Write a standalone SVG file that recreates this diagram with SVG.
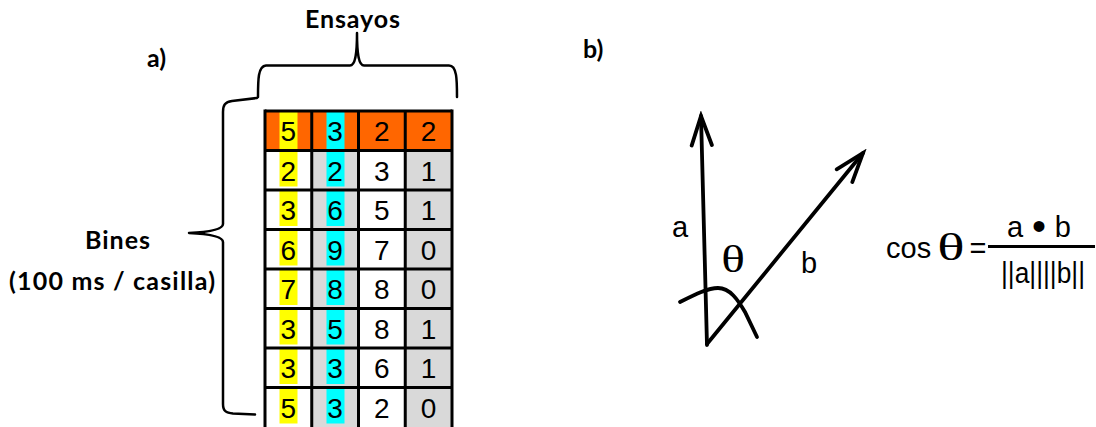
<svg xmlns="http://www.w3.org/2000/svg" width="1096" height="427" viewBox="0 0 1096 427">
  <style>
    .lbl { font-family: Lato, "Open Sans", "Liberation Sans", sans-serif; font-weight: bold; font-size: 25px; fill: #000; }
    .num { font-family: "Liberation Sans", Arial, sans-serif; font-size: 28px; fill: #000; text-anchor: middle; }
    .grid { stroke: #000; stroke-width: 3; fill: none; }
    .brace { stroke: #000; stroke-width: 2.5; fill: none; stroke-linecap: round; stroke-linejoin: round; }
    .vec { stroke: #000; stroke-width: 3.8; fill: none; stroke-linecap: round; }
    .math { font-family: "Liberation Sans", Arial, sans-serif; font-size: 29px; fill: #000; }
    .greek { font-family: "Liberation Serif", "Times New Roman", serif; font-size: 38px; fill: #000; }
    .orange { fill: #ff6600; }
    .grey { fill: #d9d9d9; }
    .yellow { fill: #ffff00; }
    .cyan { fill: #00ffff; }
  </style>
  <defs>
    <marker id="head" markerUnits="userSpaceOnUse" markerWidth="40" markerHeight="30" viewBox="-35 -15 40 30" refX="0" refY="0" orient="auto">
      <path d="M -29.3 -10.1 L 0 0 L -29.3 10.1" fill="none" stroke="#000" stroke-width="3.8" stroke-linecap="round" stroke-linejoin="miter"/>
    </marker>
  </defs>

  <rect width="1096" height="427" fill="#fff"/>

  <!-- panel labels -->
  <text class="lbl" x="147" y="67" font-size="26">a)</text>
  <text class="lbl" x="583" y="58" font-size="26">b)</text>

  <!-- trials brace -->
  <g id="ensayos">
    <text class="lbl" x="305" y="28" textLength="95" lengthAdjust="spacing">Ensayos</text>
    <path class="brace" d="M258,97 C258,80 258,66 266,65.5 L350,65.5 C355,65.5 357,55 357,33 C357,55 359,65.5 364,65.5 L449,65.5 C457,65.5 457,80 457,97"/>
  </g>

  <!-- bins brace -->
  <g id="bines">
    <text class="lbl" x="85" y="249" textLength="65" lengthAdjust="spacing">Bines</text>
    <text class="lbl" x="9" y="290" textLength="206" lengthAdjust="spacing">(100 ms / casilla)</text>
    <path class="brace" d="M257,98 L232,101 C225,102 223,105 223,112 L223,224 C223,229 210,232 189,233 C210,234 223,237 223,242 L223,404 C223,411 226,413 233,413.5 L255,414.5"/>
  </g>

  <!-- spike count table: 8 bins x 4 trials -->
  <g id="tabla">
    <!-- cell fills -->
    <rect class="orange" x="265" y="111" width="187" height="39.5"/>
    <rect class="grey" x="311.75" y="150.5" width="46.75" height="276.5"/>
    <rect class="grey" x="405.25" y="150.5" width="46.75" height="276.5"/>

    <!-- highlighted trial columns -->
    <rect class="yellow" x="279.5" y="111" width="18" height="39.5"/>
    <rect class="cyan" x="326.5" y="111" width="18" height="39.5"/>
    <g class="yellow">
      <rect x="279.5" y="151.5" width="18" height="35"/>
      <rect x="279.5" y="191" width="18" height="35"/>
      <rect x="279.5" y="230.5" width="18" height="35"/>
      <rect x="279.5" y="270" width="18" height="35"/>
      <rect x="279.5" y="309.5" width="18" height="35"/>
      <rect x="279.5" y="349" width="18" height="35"/>
      <rect x="279.5" y="388.5" width="18" height="35"/>
    </g>
    <g class="cyan">
      <rect x="326.5" y="151.5" width="18" height="35"/>
      <rect x="326.5" y="191" width="18" height="35"/>
      <rect x="326.5" y="230.5" width="18" height="35"/>
      <rect x="326.5" y="270" width="18" height="35"/>
      <rect x="326.5" y="309.5" width="18" height="35"/>
      <rect x="326.5" y="349" width="18" height="35"/>
      <rect x="326.5" y="388.5" width="18" height="35"/>
    </g>

    <!-- grid lines -->
    <g class="grid">
      <path d="M265,111 H452 M265,150.5 H452 M265,190 H452 M265,229.5 H452 M265,269 H452 M265,308.5 H452 M265,348 H452 M265,387.5 H452"/>
      <path d="M265,109.5 V427 M311.75,111 V427 M358.5,111 V427 M405.25,111 V427 M452,109.5 V427"/>
    </g>

    <!-- counts -->
    <g class="num">
      <text x="288.4" y="141">5</text><text x="335.1" y="141">3</text><text x="381.9" y="141">2</text><text x="428.6" y="141">2</text>
      <text x="288.4" y="180.5">2</text><text x="335.1" y="180.5">2</text><text x="381.9" y="180.5">3</text><text x="428.6" y="180.5">1</text>
      <text x="288.4" y="220">3</text><text x="335.1" y="220">6</text><text x="381.9" y="220">5</text><text x="428.6" y="220">1</text>
      <text x="288.4" y="259.5">6</text><text x="335.1" y="259.5">9</text><text x="381.9" y="259.5">7</text><text x="428.6" y="259.5">0</text>
      <text x="288.4" y="299">7</text><text x="335.1" y="299">8</text><text x="381.9" y="299">8</text><text x="428.6" y="299">0</text>
      <text x="288.4" y="338.5">3</text><text x="335.1" y="338.5">5</text><text x="381.9" y="338.5">8</text><text x="428.6" y="338.5">1</text>
      <text x="288.4" y="378">3</text><text x="335.1" y="378">3</text><text x="381.9" y="378">6</text><text x="428.6" y="378">1</text>
      <text x="288.4" y="417.5">5</text><text x="335.1" y="417.5">3</text><text x="381.9" y="417.5">2</text><text x="428.6" y="417.5">0</text>
    </g>
  </g>

  <!-- two vectors and the angle between them -->
  <g id="vectores">
    <path class="vec" d="M707,345 L701,116" marker-end="url(#head)"/>
    <path class="vec" d="M707,344 L863,153" marker-end="url(#head)"/>
    <path class="vec" d="M680,302 C696,294 708,288 718,288 C730,288 738,300 745,312 L757,337"/>
    <text class="math" x="672" y="237" font-size="27">a</text>
    <text class="greek" transform="translate(733,272) scale(1.3,1)" text-anchor="middle" font-size="37">θ</text>
    <text class="math" x="809" y="273" text-anchor="middle" font-size="29">b</text>
  </g>

  <!-- cosine similarity -->
  <g id="formula">
    <text class="math" x="886" y="258" font-size="30">cos</text>
    <text class="greek" transform="translate(951,260) scale(1.5,1)" text-anchor="middle" font-size="39">θ</text>
    <text class="math" x="978" y="258" text-anchor="middle" font-size="31">=</text>
    <line x1="988" y1="246.5" x2="1095" y2="246.5" stroke="#000" stroke-width="2.8"/>
    <text class="math" x="1007" y="237" textLength="64" lengthAdjust="spacing">a<tspan font-size="40" dy="3">•</tspan><tspan dy="-3">b</tspan></text>
    <text class="math" x="1001" y="283" font-size="31" textLength="84" lengthAdjust="spacingAndGlyphs">||a||||b||</text>
  </g>
</svg>
